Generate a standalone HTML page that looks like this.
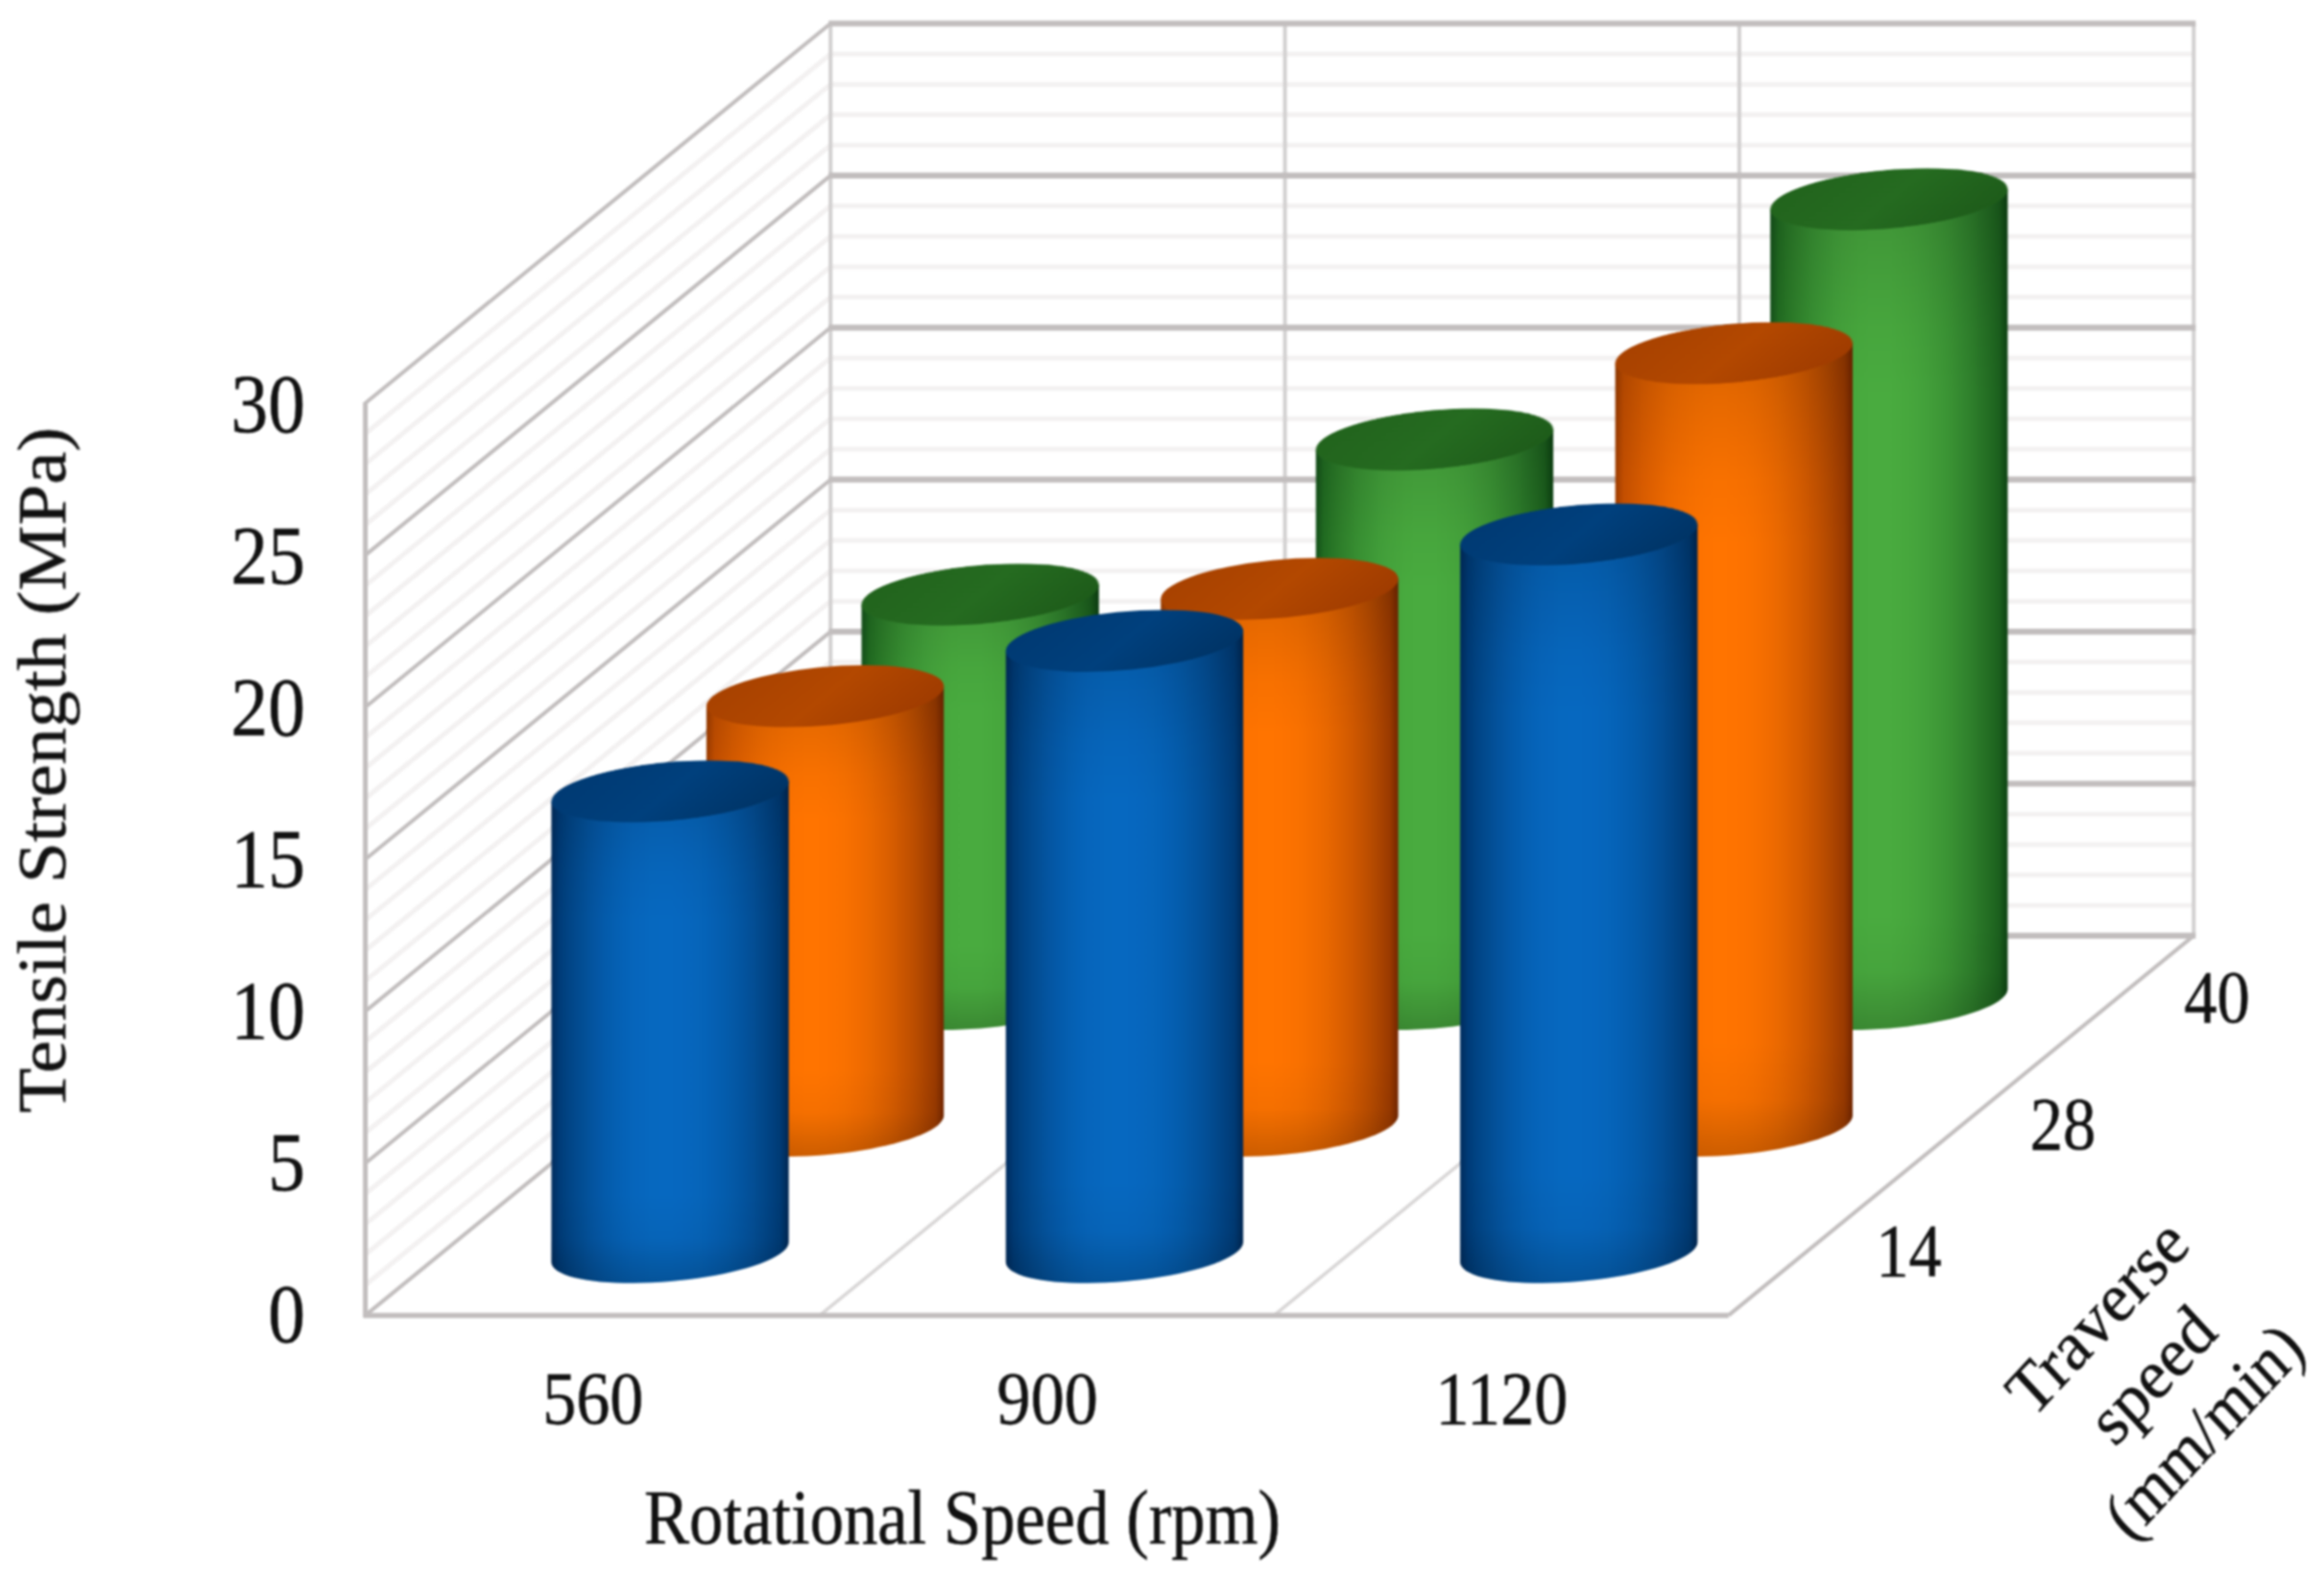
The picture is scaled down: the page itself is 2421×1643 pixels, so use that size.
<!DOCTYPE html>
<html lang="en"><head><meta charset="utf-8"><title>Tensile Strength chart</title>
<style>html,body{margin:0;padding:0;background:#fff}body{width:2421px;height:1643px;overflow:hidden}</style>
</head><body>
<svg width="2421" height="1643" viewBox="0 0 2421 1643" style="display:block">
<defs>
<linearGradient id="gB" x1="0" y1="0" x2="1" y2="0"><stop offset="0" stop-color="#002c5e"/><stop offset="0.035" stop-color="#003c78"/><stop offset="0.0737" stop-color="#014485"/><stop offset="0.1125" stop-color="#024b90"/><stop offset="0.1512" stop-color="#03519a"/><stop offset="0.19" stop-color="#0456a3"/><stop offset="0.2288" stop-color="#045bab"/><stop offset="0.2675" stop-color="#055fb1"/><stop offset="0.3063" stop-color="#0562b7"/><stop offset="0.345" stop-color="#0665bb"/><stop offset="0.3838" stop-color="#0666bd"/><stop offset="0.4225" stop-color="#0668bf"/><stop offset="0.4612" stop-color="#0668c0"/><stop offset="0.5" stop-color="#0668c0"/><stop offset="0.5387" stop-color="#0667bf"/><stop offset="0.5775" stop-color="#0666bd"/><stop offset="0.6162" stop-color="#0665ba"/><stop offset="0.655" stop-color="#0562b7"/><stop offset="0.6937" stop-color="#055fb2"/><stop offset="0.7325" stop-color="#045cac"/><stop offset="0.7712" stop-color="#0458a5"/><stop offset="0.81" stop-color="#03539e"/><stop offset="0.8488" stop-color="#034e95"/><stop offset="0.8875" stop-color="#02488b"/><stop offset="0.9263" stop-color="#014180"/><stop offset="0.965" stop-color="#003a74"/><stop offset="1" stop-color="#002652"/></linearGradient>
<linearGradient id="gO" x1="0" y1="0" x2="1" y2="0"><stop offset="0" stop-color="#a03e00"/><stop offset="0.035" stop-color="#c85000"/><stop offset="0.0737" stop-color="#d25700"/><stop offset="0.1125" stop-color="#dc5d00"/><stop offset="0.1512" stop-color="#e46200"/><stop offset="0.19" stop-color="#eb6700"/><stop offset="0.2288" stop-color="#f16b00"/><stop offset="0.2675" stop-color="#f66e00"/><stop offset="0.3063" stop-color="#f97000"/><stop offset="0.345" stop-color="#fc7200"/><stop offset="0.3838" stop-color="#fe7300"/><stop offset="0.4225" stop-color="#ff7400"/><stop offset="0.4612" stop-color="#ff7400"/><stop offset="0.5" stop-color="#fe7300"/><stop offset="0.5387" stop-color="#fc7200"/><stop offset="0.5775" stop-color="#f97100"/><stop offset="0.6162" stop-color="#f56e00"/><stop offset="0.655" stop-color="#f06b00"/><stop offset="0.6937" stop-color="#e96800"/><stop offset="0.7325" stop-color="#e26300"/><stop offset="0.7712" stop-color="#d95e00"/><stop offset="0.81" stop-color="#cf5800"/><stop offset="0.8488" stop-color="#c45200"/><stop offset="0.8875" stop-color="#b74b00"/><stop offset="0.9263" stop-color="#a94300"/><stop offset="0.965" stop-color="#9a3a00"/><stop offset="1" stop-color="#742600"/></linearGradient>
<linearGradient id="gG" x1="0" y1="0" x2="1" y2="0"><stop offset="0" stop-color="#14521a"/><stop offset="0.035" stop-color="#226e22"/><stop offset="0.0737" stop-color="#297927"/><stop offset="0.1125" stop-color="#30832c"/><stop offset="0.1512" stop-color="#358c30"/><stop offset="0.19" stop-color="#3a9434"/><stop offset="0.2288" stop-color="#3e9a37"/><stop offset="0.2675" stop-color="#42a03a"/><stop offset="0.3063" stop-color="#45a43c"/><stop offset="0.345" stop-color="#47a73d"/><stop offset="0.3838" stop-color="#48aa3e"/><stop offset="0.4225" stop-color="#49ab3f"/><stop offset="0.4612" stop-color="#49ab3f"/><stop offset="0.5" stop-color="#49ab3f"/><stop offset="0.5387" stop-color="#48a93e"/><stop offset="0.5775" stop-color="#47a73d"/><stop offset="0.6162" stop-color="#45a43c"/><stop offset="0.655" stop-color="#42a03a"/><stop offset="0.6937" stop-color="#409b38"/><stop offset="0.7325" stop-color="#3c9635"/><stop offset="0.7712" stop-color="#388f32"/><stop offset="0.81" stop-color="#33872f"/><stop offset="0.8488" stop-color="#2e7f2b"/><stop offset="0.8875" stop-color="#287527"/><stop offset="0.9263" stop-color="#226b22"/><stop offset="0.965" stop-color="#1b5f1d"/><stop offset="1" stop-color="#0c4212"/></linearGradient>
<linearGradient id="tB" x1="0" y1="0" x2="1" y2="0"><stop offset="0" stop-color="#003a73"/><stop offset="0.5" stop-color="#00407d"/><stop offset="1" stop-color="#003466"/></linearGradient>
<linearGradient id="tO" x1="0" y1="0" x2="1" y2="0"><stop offset="0" stop-color="#a84200"/><stop offset="0.5" stop-color="#b34800"/><stop offset="1" stop-color="#a03c00"/></linearGradient>
<linearGradient id="tG" x1="0" y1="0" x2="1" y2="0"><stop offset="0" stop-color="#22641d"/><stop offset="0.5" stop-color="#256b20"/><stop offset="1" stop-color="#1e5c1a"/></linearGradient>
<linearGradient id="vs" x1="0" y1="0" x2="0" y2="1"><stop offset="0" stop-color="#000" stop-opacity="0.16"/><stop offset="0.2" stop-color="#000" stop-opacity="0.085"/><stop offset="0.42" stop-color="#000" stop-opacity="0.025"/><stop offset="0.58" stop-color="#000" stop-opacity="0"/><stop offset="0.84" stop-color="#000" stop-opacity="0.03"/><stop offset="1" stop-color="#000" stop-opacity="0.2"/></linearGradient>
<filter id="soft" x="-5%" y="-5%" width="110%" height="110%" color-interpolation-filters="sRGB"><feGaussianBlur stdDeviation="0.8"/></filter>
<filter id="tsoft" x="-5%" y="-5%" width="110%" height="110%" color-interpolation-filters="sRGB"><feGaussianBlur stdDeviation="0.9"/></filter>
</defs>
<rect width="2421" height="1643" fill="#fff"/>
<g fill="none" stroke-linecap="butt" filter="url(#soft)">
<path d="M380.6 1338.7L865.2 943.2H2285.3" stroke="#f3f1f1" stroke-width="5"/>
<path d="M380.6 1307.0L865.2 911.5H2285.3" stroke="#f3f1f1" stroke-width="5"/>
<path d="M380.6 1275.4L865.2 879.9H2285.3" stroke="#f3f1f1" stroke-width="5"/>
<path d="M380.6 1243.7L865.2 848.2H2285.3" stroke="#f3f1f1" stroke-width="5"/>
<path d="M380.6 1180.3L865.2 784.8H2285.3" stroke="#f3f1f1" stroke-width="5"/>
<path d="M380.6 1148.6L865.2 753.1H2285.3" stroke="#f3f1f1" stroke-width="5"/>
<path d="M380.6 1117.0L865.2 721.5H2285.3" stroke="#f3f1f1" stroke-width="5"/>
<path d="M380.6 1085.3L865.2 689.8H2285.3" stroke="#f3f1f1" stroke-width="5"/>
<path d="M380.6 1021.9L865.2 626.4H2285.3" stroke="#f3f1f1" stroke-width="5"/>
<path d="M380.6 990.2L865.2 594.7H2285.3" stroke="#f3f1f1" stroke-width="5"/>
<path d="M380.6 958.6L865.2 563.1H2285.3" stroke="#f3f1f1" stroke-width="5"/>
<path d="M380.6 926.9L865.2 531.4H2285.3" stroke="#f3f1f1" stroke-width="5"/>
<path d="M380.6 863.5L865.2 468.0H2285.3" stroke="#f3f1f1" stroke-width="5"/>
<path d="M380.6 831.8L865.2 436.3H2285.3" stroke="#f3f1f1" stroke-width="5"/>
<path d="M380.6 800.2L865.2 404.7H2285.3" stroke="#f3f1f1" stroke-width="5"/>
<path d="M380.6 768.5L865.2 373.0H2285.3" stroke="#f3f1f1" stroke-width="5"/>
<path d="M380.6 705.1L865.2 309.6H2285.3" stroke="#f3f1f1" stroke-width="5"/>
<path d="M380.6 673.4L865.2 277.9H2285.3" stroke="#f3f1f1" stroke-width="5"/>
<path d="M380.6 641.8L865.2 246.3H2285.3" stroke="#f3f1f1" stroke-width="5"/>
<path d="M380.6 610.1L865.2 214.6H2285.3" stroke="#f3f1f1" stroke-width="5"/>
<path d="M380.6 546.7L865.2 151.2H2285.3" stroke="#f3f1f1" stroke-width="5"/>
<path d="M380.6 515.0L865.2 119.5H2285.3" stroke="#f3f1f1" stroke-width="5"/>
<path d="M380.6 483.4L865.2 87.9H2285.3" stroke="#f3f1f1" stroke-width="5"/>
<path d="M380.6 451.7L865.2 56.2H2285.3" stroke="#f3f1f1" stroke-width="5"/>
<path d="M865.2 974.9V24.5" stroke="#d2d0d0" stroke-width="4"/>
<path d="M1338.6 974.9V24.5" stroke="#d2d0d0" stroke-width="4"/>
<path d="M1811.9 974.9V24.5" stroke="#d2d0d0" stroke-width="4"/>
<path d="M2285.3 974.9V24.5" stroke="#d2d0d0" stroke-width="4"/>
<path d="M854.0 1370.4L1338.6 974.9" stroke="#d8d6d6" stroke-width="3.5"/>
<path d="M1327.3 1370.4L1811.9 974.9" stroke="#d8d6d6" stroke-width="3.5"/>
<path d="M1800.7 1370.4L2285.3 974.9" stroke="#c2bebe" stroke-width="4"/>
<path d="M380.6 1370.4L865.2 974.9" stroke="#c2bebe" stroke-width="4"/>
<path d="M863.2 974.9H2287.3" stroke="#c2bebe" stroke-width="6.2"/>
<path d="M380.6 1212.0L865.2 816.5" stroke="#c2bebe" stroke-width="4"/>
<path d="M863.2 816.5H2287.3" stroke="#c2bebe" stroke-width="6.2"/>
<path d="M380.6 1053.6L865.2 658.1" stroke="#c2bebe" stroke-width="4"/>
<path d="M863.2 658.1H2287.3" stroke="#c2bebe" stroke-width="6.2"/>
<path d="M380.6 895.2L865.2 499.7" stroke="#c2bebe" stroke-width="4"/>
<path d="M863.2 499.7H2287.3" stroke="#c2bebe" stroke-width="6.2"/>
<path d="M380.6 736.8L865.2 341.3" stroke="#c2bebe" stroke-width="4"/>
<path d="M863.2 341.3H2287.3" stroke="#c2bebe" stroke-width="6.2"/>
<path d="M380.6 578.4L865.2 182.9" stroke="#c2bebe" stroke-width="4"/>
<path d="M863.2 182.9H2287.3" stroke="#c2bebe" stroke-width="6.2"/>
<path d="M380.6 420.0L865.2 24.5" stroke="#c2bebe" stroke-width="4"/>
<path d="M863.2 24.5H2287.3" stroke="#c2bebe" stroke-width="6.2"/>
<path d="M380.6 1372.4V419.0" stroke="#c2bebe" stroke-width="5"/>
<path d="M378.6 1370.4H1800.7" stroke="#c2bebe" stroke-width="5.5"/>
</g>
<g filter="url(#soft)">
<path d="M1144.8 609.0L1144.8 1030.4 1144.4 1032.8 1143.2 1035.3 1141.4 1037.8 1138.7 1040.3 1135.4 1042.9 1131.3 1045.4 1126.5 1047.9 1121.2 1050.3 1115.1 1052.7 1108.6 1055.0 1101.4 1057.3 1093.8 1059.4 1085.7 1061.4 1077.3 1063.3 1068.4 1065.1 1059.3 1066.7 1050.0 1068.1 1040.5 1069.4 1030.8 1070.5 1021.1 1071.4 1011.4 1072.1 1001.8 1072.6 992.3 1073.0 982.9 1073.1 973.8 1073.1 965.0 1072.8 956.5 1072.3 948.4 1071.7 940.8 1070.8 933.7 1069.8 927.1 1068.6 921.1 1067.2 915.7 1065.7 910.9 1064.0 906.9 1062.2 903.5 1060.2 900.9 1058.1 899.0 1055.9 897.9 1053.6 897.5 1051.3L897.5 629.9Z" fill="url(#gG)"/>
<linearGradient id="v20" gradientUnits="userSpaceOnUse" x1="0" y1="587.2" x2="0" y2="1073.1"><stop offset="0.0000" stop-color="#000" stop-opacity="0.17"/><stop offset="0.1132" stop-color="#000" stop-opacity="0.095"/><stop offset="0.2264" stop-color="#000" stop-opacity="0.03"/><stop offset="0.3235" stop-color="#000" stop-opacity="0"/><stop offset="0.8171" stop-color="#000" stop-opacity="0"/><stop offset="0.9086" stop-color="#000" stop-opacity="0.04"/><stop offset="1.0000" stop-color="#000" stop-opacity="0.2"/></linearGradient>
<path d="M1144.8 609.0L1144.8 1030.4 1144.4 1032.8 1143.2 1035.3 1141.4 1037.8 1138.7 1040.3 1135.4 1042.9 1131.3 1045.4 1126.5 1047.9 1121.2 1050.3 1115.1 1052.7 1108.6 1055.0 1101.4 1057.3 1093.8 1059.4 1085.7 1061.4 1077.3 1063.3 1068.4 1065.1 1059.3 1066.7 1050.0 1068.1 1040.5 1069.4 1030.8 1070.5 1021.1 1071.4 1011.4 1072.1 1001.8 1072.6 992.3 1073.0 982.9 1073.1 973.8 1073.1 965.0 1072.8 956.5 1072.3 948.4 1071.7 940.8 1070.8 933.7 1069.8 927.1 1068.6 921.1 1067.2 915.7 1065.7 910.9 1064.0 906.9 1062.2 903.5 1060.2 900.9 1058.1 899.0 1055.9 897.9 1053.6 897.5 1051.3L897.5 629.9Z" fill="url(#v20)"/>
<ellipse rx="1" ry="1" transform="matrix(117.0 0 40.0 -32.3 1021.1 619.5)" fill="url(#tG)"/>
<path d="M1618.1 447.5L1618.1 1030.4 1617.8 1032.8 1616.6 1035.3 1614.7 1037.8 1612.1 1040.3 1608.7 1042.9 1604.7 1045.4 1599.9 1047.9 1594.5 1050.3 1588.5 1052.7 1581.9 1055.0 1574.8 1057.3 1567.2 1059.4 1559.1 1061.4 1550.6 1063.3 1541.8 1065.1 1532.7 1066.7 1523.4 1068.1 1513.8 1069.4 1504.2 1070.5 1494.5 1071.4 1484.8 1072.1 1475.1 1072.6 1465.6 1073.0 1456.3 1073.1 1447.2 1073.1 1438.4 1072.8 1429.9 1072.3 1421.8 1071.7 1414.2 1070.8 1407.1 1069.8 1400.5 1068.6 1394.5 1067.2 1389.1 1065.7 1384.3 1064.0 1380.3 1062.2 1376.9 1060.2 1374.3 1058.1 1372.4 1055.9 1371.2 1053.6 1370.8 1051.3L1370.8 468.4Z" fill="url(#gG)"/>
<linearGradient id="v21" gradientUnits="userSpaceOnUse" x1="0" y1="425.6" x2="0" y2="1073.1"><stop offset="0.0000" stop-color="#000" stop-opacity="0.17"/><stop offset="0.1024" stop-color="#000" stop-opacity="0.095"/><stop offset="0.2049" stop-color="#000" stop-opacity="0.03"/><stop offset="0.2927" stop-color="#000" stop-opacity="0"/><stop offset="0.8428" stop-color="#000" stop-opacity="0"/><stop offset="0.9214" stop-color="#000" stop-opacity="0.04"/><stop offset="1.0000" stop-color="#000" stop-opacity="0.2"/></linearGradient>
<path d="M1618.1 447.5L1618.1 1030.4 1617.8 1032.8 1616.6 1035.3 1614.7 1037.8 1612.1 1040.3 1608.7 1042.9 1604.7 1045.4 1599.9 1047.9 1594.5 1050.3 1588.5 1052.7 1581.9 1055.0 1574.8 1057.3 1567.2 1059.4 1559.1 1061.4 1550.6 1063.3 1541.8 1065.1 1532.7 1066.7 1523.4 1068.1 1513.8 1069.4 1504.2 1070.5 1494.5 1071.4 1484.8 1072.1 1475.1 1072.6 1465.6 1073.0 1456.3 1073.1 1447.2 1073.1 1438.4 1072.8 1429.9 1072.3 1421.8 1071.7 1414.2 1070.8 1407.1 1069.8 1400.5 1068.6 1394.5 1067.2 1389.1 1065.7 1384.3 1064.0 1380.3 1062.2 1376.9 1060.2 1374.3 1058.1 1372.4 1055.9 1371.2 1053.6 1370.8 1051.3L1370.8 468.4Z" fill="url(#v21)"/>
<ellipse rx="1" ry="1" transform="matrix(117.0 0 40.0 -32.3 1494.5 457.9)" fill="url(#tG)"/>
<path d="M2091.5 197.2L2091.5 1030.4 2091.1 1032.8 2090.0 1035.3 2088.1 1037.8 2085.5 1040.3 2082.1 1042.9 2078.0 1045.4 2073.3 1047.9 2067.9 1050.3 2061.9 1052.7 2055.3 1055.0 2048.2 1057.3 2040.5 1059.4 2032.5 1061.4 2024.0 1063.3 2015.2 1065.1 2006.1 1066.7 1996.7 1068.1 1987.2 1069.4 1977.6 1070.5 1967.9 1071.4 1958.2 1072.1 1948.5 1072.6 1939.0 1073.0 1929.6 1073.1 1920.5 1073.1 1911.7 1072.8 1903.3 1072.3 1895.2 1071.7 1887.6 1070.8 1880.4 1069.8 1873.8 1068.6 1867.8 1067.2 1862.4 1065.7 1857.7 1064.0 1853.6 1062.2 1850.3 1060.2 1847.6 1058.1 1845.7 1055.9 1844.6 1053.6 1844.2 1051.3L1844.2 218.1Z" fill="url(#gG)"/>
<linearGradient id="v22" gradientUnits="userSpaceOnUse" x1="0" y1="175.3" x2="0" y2="1073.1"><stop offset="0.0000" stop-color="#000" stop-opacity="0.17"/><stop offset="0.0934" stop-color="#000" stop-opacity="0.095"/><stop offset="0.1868" stop-color="#000" stop-opacity="0.03"/><stop offset="0.2668" stop-color="#000" stop-opacity="0"/><stop offset="0.8643" stop-color="#000" stop-opacity="0"/><stop offset="0.9322" stop-color="#000" stop-opacity="0.04"/><stop offset="1.0000" stop-color="#000" stop-opacity="0.2"/></linearGradient>
<path d="M2091.5 197.2L2091.5 1030.4 2091.1 1032.8 2090.0 1035.3 2088.1 1037.8 2085.5 1040.3 2082.1 1042.9 2078.0 1045.4 2073.3 1047.9 2067.9 1050.3 2061.9 1052.7 2055.3 1055.0 2048.2 1057.3 2040.5 1059.4 2032.5 1061.4 2024.0 1063.3 2015.2 1065.1 2006.1 1066.7 1996.7 1068.1 1987.2 1069.4 1977.6 1070.5 1967.9 1071.4 1958.2 1072.1 1948.5 1072.6 1939.0 1073.0 1929.6 1073.1 1920.5 1073.1 1911.7 1072.8 1903.3 1072.3 1895.2 1071.7 1887.6 1070.8 1880.4 1069.8 1873.8 1068.6 1867.8 1067.2 1862.4 1065.7 1857.7 1064.0 1853.6 1062.2 1850.3 1060.2 1847.6 1058.1 1845.7 1055.9 1844.6 1053.6 1844.2 1051.3L1844.2 218.1Z" fill="url(#v22)"/>
<ellipse rx="1" ry="1" transform="matrix(117.0 0 40.0 -32.3 1967.9 207.6)" fill="url(#tG)"/>
<path d="M983.2 714.9L983.2 1162.2 982.9 1164.6 981.7 1167.1 979.8 1169.6 977.2 1172.2 973.8 1174.7 969.8 1177.2 965.0 1179.7 959.6 1182.2 953.6 1184.6 947.0 1186.9 939.9 1189.1 932.3 1191.2 924.2 1193.2 915.7 1195.1 906.9 1196.9 897.8 1198.5 888.5 1199.9 878.9 1201.2 869.3 1202.3 859.6 1203.2 849.9 1203.9 840.2 1204.5 830.7 1204.8 821.4 1204.9 812.3 1204.9 803.4 1204.6 795.0 1204.2 786.9 1203.5 779.3 1202.7 772.2 1201.6 765.6 1200.4 759.6 1199.1 754.2 1197.5 749.4 1195.8 745.3 1194.0 742.0 1192.0 739.4 1189.9 737.5 1187.8 736.3 1185.5 735.9 1183.1L735.9 735.8Z" fill="url(#gO)"/>
<linearGradient id="v10" gradientUnits="userSpaceOnUse" x1="0" y1="693.0" x2="0" y2="1205.0"><stop offset="0.0000" stop-color="#000" stop-opacity="0.17"/><stop offset="0.1110" stop-color="#000" stop-opacity="0.095"/><stop offset="0.2220" stop-color="#000" stop-opacity="0.03"/><stop offset="0.3172" stop-color="#000" stop-opacity="0"/><stop offset="0.8223" stop-color="#000" stop-opacity="0"/><stop offset="0.9112" stop-color="#000" stop-opacity="0.04"/><stop offset="1.0000" stop-color="#000" stop-opacity="0.2"/></linearGradient>
<path d="M983.2 714.9L983.2 1162.2 982.9 1164.6 981.7 1167.1 979.8 1169.6 977.2 1172.2 973.8 1174.7 969.8 1177.2 965.0 1179.7 959.6 1182.2 953.6 1184.6 947.0 1186.9 939.9 1189.1 932.3 1191.2 924.2 1193.2 915.7 1195.1 906.9 1196.9 897.8 1198.5 888.5 1199.9 878.9 1201.2 869.3 1202.3 859.6 1203.2 849.9 1203.9 840.2 1204.5 830.7 1204.8 821.4 1204.9 812.3 1204.9 803.4 1204.6 795.0 1204.2 786.9 1203.5 779.3 1202.7 772.2 1201.6 765.6 1200.4 759.6 1199.1 754.2 1197.5 749.4 1195.8 745.3 1194.0 742.0 1192.0 739.4 1189.9 737.5 1187.8 736.3 1185.5 735.9 1183.1L735.9 735.8Z" fill="url(#v10)"/>
<ellipse rx="1" ry="1" transform="matrix(117.0 0 40.0 -32.3 859.6 725.3)" fill="url(#tO)"/>
<path d="M1456.6 603.0L1456.6 1162.2 1456.2 1164.6 1455.1 1167.1 1453.2 1169.6 1450.6 1172.2 1447.2 1174.7 1443.1 1177.2 1438.4 1179.7 1433.0 1182.2 1427.0 1184.6 1420.4 1186.9 1413.3 1189.1 1405.6 1191.2 1397.6 1193.2 1389.1 1195.1 1380.3 1196.9 1371.2 1198.5 1361.8 1199.9 1352.3 1201.2 1342.7 1202.3 1333.0 1203.2 1323.3 1203.9 1313.6 1204.5 1304.1 1204.8 1294.7 1204.9 1285.6 1204.9 1276.8 1204.6 1268.3 1204.2 1260.3 1203.5 1252.7 1202.7 1245.5 1201.6 1238.9 1200.4 1232.9 1199.1 1227.5 1197.5 1222.8 1195.8 1218.7 1194.0 1215.4 1192.0 1212.7 1189.9 1210.8 1187.8 1209.7 1185.5 1209.3 1183.1L1209.3 623.9Z" fill="url(#gO)"/>
<linearGradient id="v11" gradientUnits="userSpaceOnUse" x1="0" y1="581.2" x2="0" y2="1205.0"><stop offset="0.0000" stop-color="#000" stop-opacity="0.17"/><stop offset="0.1037" stop-color="#000" stop-opacity="0.095"/><stop offset="0.2073" stop-color="#000" stop-opacity="0.03"/><stop offset="0.2962" stop-color="#000" stop-opacity="0"/><stop offset="0.8398" stop-color="#000" stop-opacity="0"/><stop offset="0.9199" stop-color="#000" stop-opacity="0.04"/><stop offset="1.0000" stop-color="#000" stop-opacity="0.2"/></linearGradient>
<path d="M1456.6 603.0L1456.6 1162.2 1456.2 1164.6 1455.1 1167.1 1453.2 1169.6 1450.6 1172.2 1447.2 1174.7 1443.1 1177.2 1438.4 1179.7 1433.0 1182.2 1427.0 1184.6 1420.4 1186.9 1413.3 1189.1 1405.6 1191.2 1397.6 1193.2 1389.1 1195.1 1380.3 1196.9 1371.2 1198.5 1361.8 1199.9 1352.3 1201.2 1342.7 1202.3 1333.0 1203.2 1323.3 1203.9 1313.6 1204.5 1304.1 1204.8 1294.7 1204.9 1285.6 1204.9 1276.8 1204.6 1268.3 1204.2 1260.3 1203.5 1252.7 1202.7 1245.5 1201.6 1238.9 1200.4 1232.9 1199.1 1227.5 1197.5 1222.8 1195.8 1218.7 1194.0 1215.4 1192.0 1212.7 1189.9 1210.8 1187.8 1209.7 1185.5 1209.3 1183.1L1209.3 623.9Z" fill="url(#v11)"/>
<ellipse rx="1" ry="1" transform="matrix(117.0 0 40.0 -32.3 1333.0 613.5)" fill="url(#tO)"/>
<path d="M1930.0 357.5L1930.0 1162.2 1929.6 1164.6 1928.5 1167.1 1926.6 1169.6 1923.9 1172.2 1920.6 1174.7 1916.5 1177.2 1911.8 1179.7 1906.4 1182.2 1900.3 1184.6 1893.8 1186.9 1886.6 1189.1 1879.0 1191.2 1870.9 1193.2 1862.5 1195.1 1853.6 1196.9 1844.5 1198.5 1835.2 1199.9 1825.7 1201.2 1816.0 1202.3 1806.3 1203.2 1796.6 1203.9 1787.0 1204.5 1777.5 1204.8 1768.1 1204.9 1759.0 1204.9 1750.2 1204.6 1741.7 1204.2 1733.6 1203.5 1726.0 1202.7 1718.9 1201.6 1712.3 1200.4 1706.3 1199.1 1700.9 1197.5 1696.2 1195.8 1692.1 1194.0 1688.7 1192.0 1686.1 1189.9 1684.2 1187.8 1683.1 1185.5 1682.7 1183.1L1682.7 378.4Z" fill="url(#gO)"/>
<linearGradient id="v12" gradientUnits="userSpaceOnUse" x1="0" y1="335.7" x2="0" y2="1205.0"><stop offset="0.0000" stop-color="#000" stop-opacity="0.17"/><stop offset="0.0942" stop-color="#000" stop-opacity="0.095"/><stop offset="0.1883" stop-color="#000" stop-opacity="0.03"/><stop offset="0.2690" stop-color="#000" stop-opacity="0"/><stop offset="0.8625" stop-color="#000" stop-opacity="0"/><stop offset="0.9312" stop-color="#000" stop-opacity="0.04"/><stop offset="1.0000" stop-color="#000" stop-opacity="0.2"/></linearGradient>
<path d="M1930.0 357.5L1930.0 1162.2 1929.6 1164.6 1928.5 1167.1 1926.6 1169.6 1923.9 1172.2 1920.6 1174.7 1916.5 1177.2 1911.8 1179.7 1906.4 1182.2 1900.3 1184.6 1893.8 1186.9 1886.6 1189.1 1879.0 1191.2 1870.9 1193.2 1862.5 1195.1 1853.6 1196.9 1844.5 1198.5 1835.2 1199.9 1825.7 1201.2 1816.0 1202.3 1806.3 1203.2 1796.6 1203.9 1787.0 1204.5 1777.5 1204.8 1768.1 1204.9 1759.0 1204.9 1750.2 1204.6 1741.7 1204.2 1733.6 1203.5 1726.0 1202.7 1718.9 1201.6 1712.3 1200.4 1706.3 1199.1 1700.9 1197.5 1696.2 1195.8 1692.1 1194.0 1688.7 1192.0 1686.1 1189.9 1684.2 1187.8 1683.1 1185.5 1682.7 1183.1L1682.7 378.4Z" fill="url(#v12)"/>
<ellipse rx="1" ry="1" transform="matrix(117.0 0 40.0 -32.3 1806.3 368.0)" fill="url(#tO)"/>
<path d="M821.7 814.1L821.7 1294.0 821.3 1296.5 820.2 1298.9 818.3 1301.5 815.6 1304.0 812.3 1306.5 808.2 1309.0 803.5 1311.5 798.1 1314.0 792.1 1316.4 785.5 1318.7 778.4 1320.9 770.7 1323.1 762.7 1325.1 754.2 1327.0 745.4 1328.7 736.3 1330.3 726.9 1331.8 717.4 1333.0 707.8 1334.1 698.1 1335.0 688.4 1335.8 678.7 1336.3 669.2 1336.6 659.8 1336.8 650.7 1336.7 641.9 1336.5 633.4 1336.0 625.4 1335.4 617.7 1334.5 610.6 1333.5 604.0 1332.3 598.0 1330.9 592.6 1329.4 587.9 1327.7 583.8 1325.8 580.5 1323.9 577.8 1321.8 575.9 1319.6 574.8 1317.3 574.4 1314.9L574.4 835.0Z" fill="url(#gB)"/>
<linearGradient id="v00" gradientUnits="userSpaceOnUse" x1="0" y1="792.2" x2="0" y2="1336.8"><stop offset="0.0000" stop-color="#000" stop-opacity="0.17"/><stop offset="0.1086" stop-color="#000" stop-opacity="0.095"/><stop offset="0.2171" stop-color="#000" stop-opacity="0.03"/><stop offset="0.3102" stop-color="#000" stop-opacity="0"/><stop offset="0.8282" stop-color="#000" stop-opacity="0"/><stop offset="0.9141" stop-color="#000" stop-opacity="0.04"/><stop offset="1.0000" stop-color="#000" stop-opacity="0.2"/></linearGradient>
<path d="M821.7 814.1L821.7 1294.0 821.3 1296.5 820.2 1298.9 818.3 1301.5 815.6 1304.0 812.3 1306.5 808.2 1309.0 803.5 1311.5 798.1 1314.0 792.1 1316.4 785.5 1318.7 778.4 1320.9 770.7 1323.1 762.7 1325.1 754.2 1327.0 745.4 1328.7 736.3 1330.3 726.9 1331.8 717.4 1333.0 707.8 1334.1 698.1 1335.0 688.4 1335.8 678.7 1336.3 669.2 1336.6 659.8 1336.8 650.7 1336.7 641.9 1336.5 633.4 1336.0 625.4 1335.4 617.7 1334.5 610.6 1333.5 604.0 1332.3 598.0 1330.9 592.6 1329.4 587.9 1327.7 583.8 1325.8 580.5 1323.9 577.8 1321.8 575.9 1319.6 574.8 1317.3 574.4 1314.9L574.4 835.0Z" fill="url(#v00)"/>
<ellipse rx="1" ry="1" transform="matrix(117.0 0 40.0 -32.3 698.1 824.5)" fill="url(#tB)"/>
<path d="M1295.1 657.3L1295.1 1294.0 1294.7 1296.5 1293.5 1298.9 1291.7 1301.5 1289.0 1304.0 1285.7 1306.5 1281.6 1309.0 1276.8 1311.5 1271.5 1314.0 1265.4 1316.4 1258.9 1318.7 1251.7 1320.9 1244.1 1323.1 1236.0 1325.1 1227.6 1327.0 1218.7 1328.7 1209.6 1330.3 1200.3 1331.8 1190.8 1333.0 1181.1 1334.1 1171.4 1335.0 1161.7 1335.8 1152.1 1336.3 1142.6 1336.6 1133.2 1336.8 1124.1 1336.7 1115.3 1336.5 1106.8 1336.0 1098.7 1335.4 1091.1 1334.5 1084.0 1333.5 1077.4 1332.3 1071.4 1330.9 1066.0 1329.4 1061.2 1327.7 1057.2 1325.8 1053.8 1323.9 1051.2 1321.8 1049.3 1319.6 1048.2 1317.3 1047.8 1314.9L1047.8 678.2Z" fill="url(#gB)"/>
<linearGradient id="v01" gradientUnits="userSpaceOnUse" x1="0" y1="635.4" x2="0" y2="1336.8"><stop offset="0.0000" stop-color="#000" stop-opacity="0.17"/><stop offset="0.0999" stop-color="#000" stop-opacity="0.095"/><stop offset="0.1999" stop-color="#000" stop-opacity="0.03"/><stop offset="0.2855" stop-color="#000" stop-opacity="0"/><stop offset="0.8487" stop-color="#000" stop-opacity="0"/><stop offset="0.9244" stop-color="#000" stop-opacity="0.04"/><stop offset="1.0000" stop-color="#000" stop-opacity="0.2"/></linearGradient>
<path d="M1295.1 657.3L1295.1 1294.0 1294.7 1296.5 1293.5 1298.9 1291.7 1301.5 1289.0 1304.0 1285.7 1306.5 1281.6 1309.0 1276.8 1311.5 1271.5 1314.0 1265.4 1316.4 1258.9 1318.7 1251.7 1320.9 1244.1 1323.1 1236.0 1325.1 1227.6 1327.0 1218.7 1328.7 1209.6 1330.3 1200.3 1331.8 1190.8 1333.0 1181.1 1334.1 1171.4 1335.0 1161.7 1335.8 1152.1 1336.3 1142.6 1336.6 1133.2 1336.8 1124.1 1336.7 1115.3 1336.5 1106.8 1336.0 1098.7 1335.4 1091.1 1334.5 1084.0 1333.5 1077.4 1332.3 1071.4 1330.9 1066.0 1329.4 1061.2 1327.7 1057.2 1325.8 1053.8 1323.9 1051.2 1321.8 1049.3 1319.6 1048.2 1317.3 1047.8 1314.9L1047.8 678.2Z" fill="url(#v01)"/>
<ellipse rx="1" ry="1" transform="matrix(117.0 0 40.0 -32.3 1171.4 667.7)" fill="url(#tB)"/>
<path d="M1768.4 546.4L1768.4 1294.0 1768.1 1296.5 1766.9 1298.9 1765.0 1301.5 1762.4 1304.0 1759.0 1306.5 1755.0 1309.0 1750.2 1311.5 1744.8 1314.0 1738.8 1316.4 1732.2 1318.7 1725.1 1320.9 1717.5 1323.1 1709.4 1325.1 1700.9 1327.0 1692.1 1328.7 1683.0 1330.3 1673.7 1331.8 1664.1 1333.0 1654.5 1334.1 1644.8 1335.0 1635.1 1335.8 1625.4 1336.3 1615.9 1336.6 1606.6 1336.8 1597.5 1336.7 1588.7 1336.5 1580.2 1336.0 1572.1 1335.4 1564.5 1334.5 1557.4 1333.5 1550.8 1332.3 1544.8 1330.9 1539.4 1329.4 1534.6 1327.7 1530.6 1325.8 1527.2 1323.9 1524.6 1321.8 1522.7 1319.6 1521.5 1317.3 1521.1 1314.9L1521.1 567.3Z" fill="url(#gB)"/>
<linearGradient id="v02" gradientUnits="userSpaceOnUse" x1="0" y1="524.5" x2="0" y2="1336.8"><stop offset="0.0000" stop-color="#000" stop-opacity="0.17"/><stop offset="0.0959" stop-color="#000" stop-opacity="0.095"/><stop offset="0.1917" stop-color="#000" stop-opacity="0.03"/><stop offset="0.2739" stop-color="#000" stop-opacity="0"/><stop offset="0.8584" stop-color="#000" stop-opacity="0"/><stop offset="0.9292" stop-color="#000" stop-opacity="0.04"/><stop offset="1.0000" stop-color="#000" stop-opacity="0.2"/></linearGradient>
<path d="M1768.4 546.4L1768.4 1294.0 1768.1 1296.5 1766.9 1298.9 1765.0 1301.5 1762.4 1304.0 1759.0 1306.5 1755.0 1309.0 1750.2 1311.5 1744.8 1314.0 1738.8 1316.4 1732.2 1318.7 1725.1 1320.9 1717.5 1323.1 1709.4 1325.1 1700.9 1327.0 1692.1 1328.7 1683.0 1330.3 1673.7 1331.8 1664.1 1333.0 1654.5 1334.1 1644.8 1335.0 1635.1 1335.8 1625.4 1336.3 1615.9 1336.6 1606.6 1336.8 1597.5 1336.7 1588.7 1336.5 1580.2 1336.0 1572.1 1335.4 1564.5 1334.5 1557.4 1333.5 1550.8 1332.3 1544.8 1330.9 1539.4 1329.4 1534.6 1327.7 1530.6 1325.8 1527.2 1323.9 1524.6 1321.8 1522.7 1319.6 1521.5 1317.3 1521.1 1314.9L1521.1 567.3Z" fill="url(#v02)"/>
<ellipse rx="1" ry="1" transform="matrix(117.0 0 40.0 -32.3 1644.8 556.8)" fill="url(#tB)"/>
</g>
<g font-family="'Liberation Serif', serif" fill="#111" stroke="#111" stroke-width="0.5" filter="url(#tsoft)">
<text transform="translate(318.0 1397.7) scale(0.9 1)" font-size="86" text-anchor="end" >0</text>
<text transform="translate(318.0 1239.8) scale(0.9 1)" font-size="86" text-anchor="end" >5</text>
<text transform="translate(318.0 1081.9) scale(0.9 1)" font-size="86" text-anchor="end" >10</text>
<text transform="translate(318.0 924.0) scale(0.9 1)" font-size="86" text-anchor="end" >15</text>
<text transform="translate(318.0 766.1) scale(0.9 1)" font-size="86" text-anchor="end" >20</text>
<text transform="translate(318.0 608.2) scale(0.9 1)" font-size="86" text-anchor="end" >25</text>
<text transform="translate(318.0 450.3) scale(0.9 1)" font-size="86" text-anchor="end" >30</text>
<text transform="translate(617.8 1483.0) scale(0.9 1)" font-size="78" text-anchor="middle" >560</text>
<text transform="translate(1091.2 1483.0) scale(0.9 1)" font-size="78" text-anchor="middle" >900</text>
<text transform="translate(1564.5 1483.0) scale(0.9 1)" font-size="78" text-anchor="middle" >1120</text>
<text transform="translate(1988.5 1328.5) scale(0.88 1)" font-size="78" text-anchor="middle" >14</text>
<text transform="translate(2149.0 1196.7) scale(0.88 1)" font-size="78" text-anchor="middle" >28</text>
<text transform="translate(2309.5 1064.9) scale(0.88 1)" font-size="78" text-anchor="middle" >40</text>
<text transform="translate(671.0 1607.5) scale(0.883 1)" font-size="80" text-anchor="start" >Rotational Speed (rpm)</text>
<text transform="translate(68 1159.5) rotate(-90) scale(1.077 1)" font-size="71.2">Tensile Strength (MPa)</text>
<text transform="translate(2200.65 1389.1) scale(1 1.08) rotate(-45) scale(1 1)" font-size="68" text-anchor="middle">Traverse</text>
<text transform="translate(2257.85 1449.75) scale(1 1.08) rotate(-45) scale(1 1)" font-size="68" text-anchor="middle">speed</text>
<text transform="translate(2311.5 1508.0) scale(1 1.08) rotate(-45) scale(0.945 1)" font-size="68" text-anchor="middle">(mm/min)</text>
</g>
</svg>
</body></html>
